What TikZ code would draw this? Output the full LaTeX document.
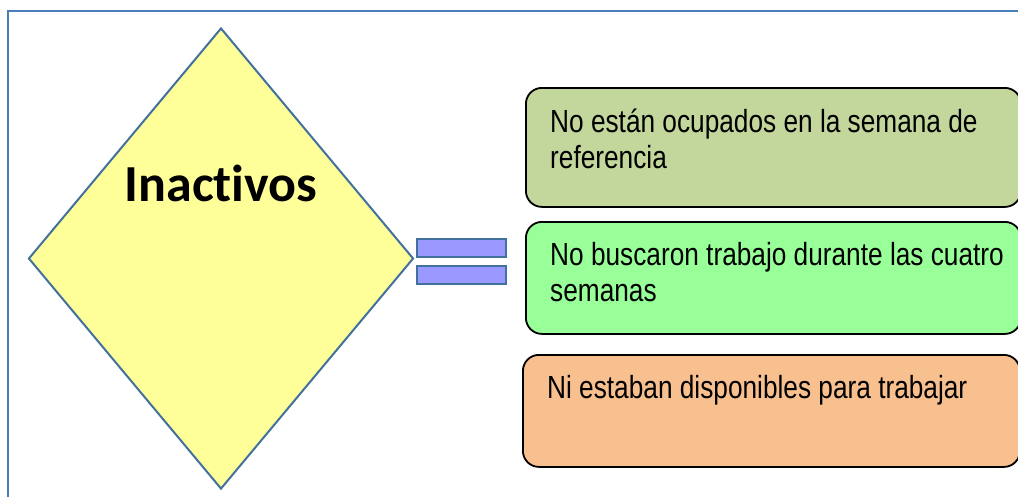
\documentclass[tikz,border=0pt]{standalone}
\usepackage{fontspec}
\setmainfont{Liberation Sans}
\newfontfamily\boxfont[FakeStretch=0.82]{Liberation Sans}
\newfontfamily\calfont[Ligatures=NoCommon]{Carlito}
\usetikzlibrary{shapes.geometric}
\definecolor{frameblue}{HTML}{4A7EBB}
\definecolor{dblue}{HTML}{41719C}
\definecolor{dyellow}{HTML}{FFFF99}
\definecolor{barfill}{HTML}{9999FF}
\definecolor{boxA}{HTML}{C3D69B}
\definecolor{boxB}{HTML}{99FF99}
\definecolor{boxC}{HTML}{F9C08F}
\tikzset{
  infobox/.style={draw=black, line width=1.8pt, rounded corners=16pt, inner sep=0pt, anchor=north west},
  bar/.style={draw=dblue, line width=2pt, fill=barfill, inner sep=0pt, anchor=north west, minimum width=89pt, minimum height=18pt},
  boxtext/.style={anchor=base west, inner sep=0pt, align=left, font=\boxfont\fontsize{32pt}{36pt}\selectfont}
}
\begin{document}
\begin{tikzpicture}[x=1pt,y=-1pt]
\useasboundingbox (0,0) rectangle (1018,496);
\clip (0,0) rectangle (1018,496);
% frame
\draw[frameblue, line width=2.5pt] (8,520) -- (8,11) -- (1040,11);
% diamond
\node[diamond, draw=dblue, line width=2pt, fill=dyellow, inner sep=0pt, minimum width=385pt, minimum height=461pt] (dia) at (221,258.5) {};
\node[font=\calfont\bfseries\fontsize{52pt}{60pt}\selectfont, anchor=base, inner sep=0pt] (title) at (221,201) {Inactivos};
% equal bars
\node[bar] (bar1) at (416,238) {};
\node[bar] (bar2) at (416,265) {};
% boxes
\node[infobox, fill=boxA, minimum width=495pt, minimum height=119pt] (b1) at (525,87) {};
\node[infobox, fill=boxB, minimum width=495pt, minimum height=112pt] (b2) at (525,221) {};
\node[infobox, fill=boxC, minimum width=497pt, minimum height=112pt] (b3) at (522,354) {};
\node[boxtext] (t1) at (550,168) {No están ocupados en la semana de\\referencia};
\node[boxtext] (t2) at (550,301) {No buscaron trabajo durante las cuatro\\semanas};
\node[boxtext] (t3) at (547,398) {Ni estaban disponibles para trabajar};
\end{tikzpicture}
\end{document}
